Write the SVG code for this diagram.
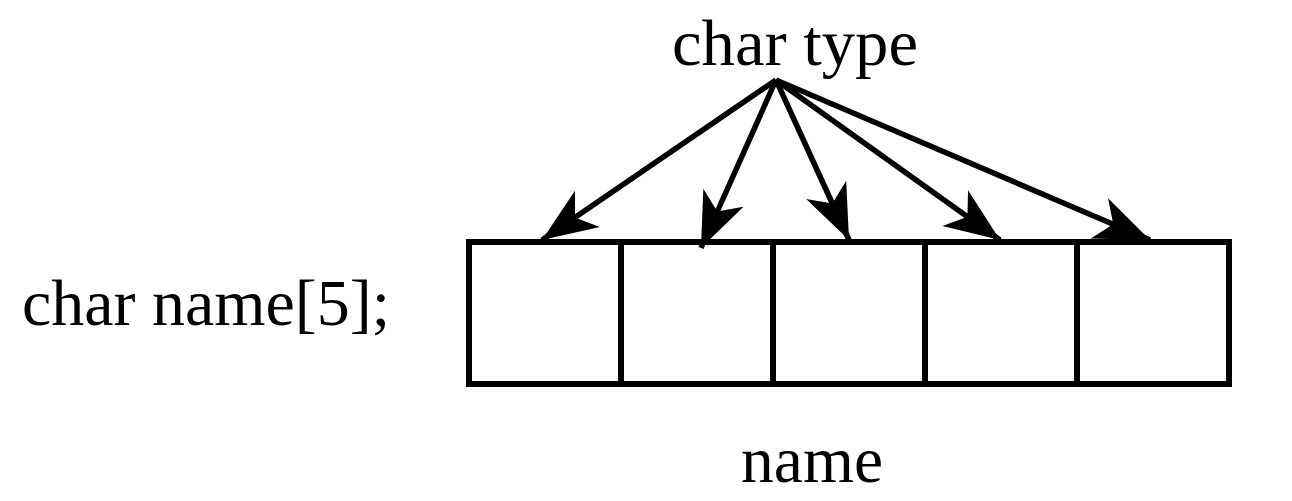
<svg xmlns="http://www.w3.org/2000/svg" width="1292" height="501" viewBox="0 0 1292 501">
<style>
.t{font-family:"Liberation Serif","DejaVu Serif",serif;font-size:66px;fill:#000}
.cell{fill:#fff;stroke:#000;stroke-width:6}
.arr{stroke:#000;stroke-width:5.5;fill:none;marker-end:url(#ah)}
</style>
<defs>
<marker id="ah" markerUnits="userSpaceOnUse" markerWidth="70" markerHeight="60" viewBox="-62 -30 70 60" refX="0" refY="0" orient="auto">
<path d="M0,0 L-55,-22 L-40,0 L-55,22 Z" fill="#000"/>
</marker>
</defs>
<rect width="1292" height="501" fill="#fff"/>
<g id="label-type"><text class="t" x="795" y="65" text-anchor="middle" textLength="246" lengthAdjust="spacingAndGlyphs">char type</text></g>
<g id="label-decl"><text class="t" x="22" y="325" textLength="368" lengthAdjust="spacingAndGlyphs">char name[5];</text></g>
<g id="label-name"><text class="t" x="812" y="482" text-anchor="middle" textLength="142" lengthAdjust="spacingAndGlyphs">name</text></g>
<g id="array">
<rect id="cell0" class="cell" x="469" y="242" width="152" height="142"/>
<rect id="cell1" class="cell" x="621" y="242" width="152" height="142"/>
<rect id="cell2" class="cell" x="773" y="242" width="152" height="142"/>
<rect id="cell3" class="cell" x="925" y="242" width="152" height="142"/>
<rect id="cell4" class="cell" x="1077" y="242" width="152" height="142"/>
</g>
<g id="connectors">
<line class="arr" x1="776" y1="80" x2="542" y2="240"/>
<line class="arr" x1="776" y1="80" x2="701" y2="248"/>
<line class="arr" x1="776" y1="80" x2="849" y2="240"/>
<line class="arr" x1="776" y1="80" x2="1000" y2="240"/>
<line class="arr" x1="776" y1="80" x2="1150" y2="240"/>
</g>
</svg>
